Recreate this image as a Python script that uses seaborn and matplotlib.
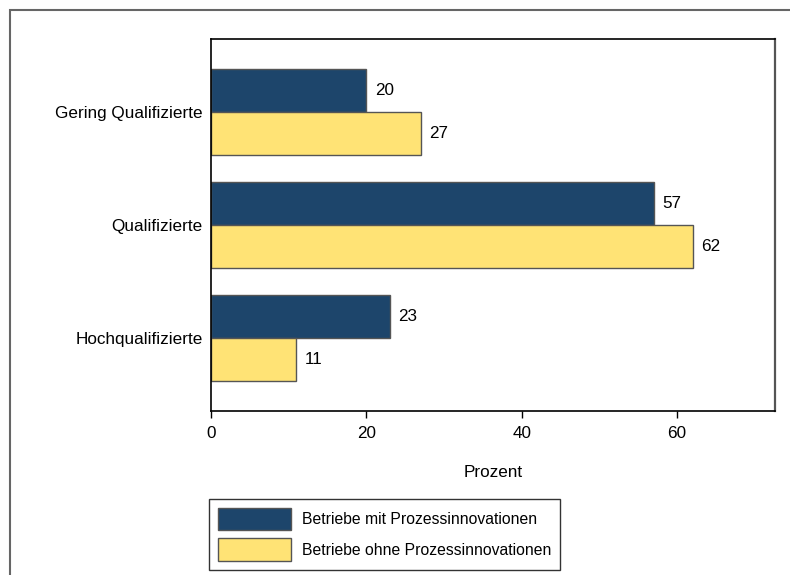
import matplotlib
matplotlib.use("Agg")
import matplotlib.pyplot as plt
from matplotlib.patches import Rectangle
import pandas as pd
import seaborn as sns

# Data
categories = ["Gering Qualifizierte", "Qualifizierte", "Hochqualifizierte"]
series_names = ["Betriebe mit Prozessinnovationen", "Betriebe ohne Prozessinnovationen"]
mit_values = [20, 57, 23]
ohne_values = [27, 62, 11]
x_ticks = [0, 20, 40, 60]
x_label = "Prozent"

colors = ["#1d456b", "#ffe375"]

df = pd.DataFrame({
    "Kategorie": categories * 2,
    "Gruppe": [series_names[0]] * len(categories) + [series_names[1]] * len(categories),
    "Wert": mit_values + ohne_values,
})

sns.set_theme(style="white")
plt.rcParams["font.family"] = ["Liberation Sans", "DejaVu Sans"]
plt.rcParams["text.color"] = "black"
plt.rcParams["axes.labelcolor"] = "black"
plt.rcParams["xtick.color"] = "black"
plt.rcParams["ytick.color"] = "black"

FS = 12.3
LFS = 11.3

W, H = 790, 575
fig = plt.figure(figsize=(W / 100, H / 100), dpi=100)
ax = fig.add_axes([211 / W, 1 - 411 / H, (775 - 211) / W, (411 - 39) / H])

sns.barplot(
    data=df, y="Kategorie", x="Wert", hue="Gruppe", order=categories,
    hue_order=series_names, palette=colors, orient="h", width=0.76,
    edgecolor="#555555", linewidth=1.0, saturation=1, ax=ax, legend=True,
)

for cont in ax.containers:
    ax.bar_label(cont, fmt="%d", padding=6, fontsize=FS, color="black")

ax.set_xlim(0, 72.6)
ax.set_ylim(2.646, -0.646)
ax.set_xticks(x_ticks)
ax.set_xlabel(x_label, fontsize=FS, labelpad=17)
ax.set_ylabel("")
ax.tick_params(axis="x", direction="out", length=5, width=1, color="black",
               labelsize=FS, pad=6, bottom=True)
ax.tick_params(axis="y", length=0, labelsize=FS, pad=6)
for side in ["left", "bottom", "top"]:
    ax.spines[side].set_color("black")
    ax.spines[side].set_linewidth(1.2)
ax.spines["right"].set_color("#555555")
ax.spines["right"].set_linewidth(1.6)

handles, labels = ax.get_legend_handles_labels()
ax.get_legend().remove()
leg = fig.legend(
    handles, labels, loc="upper left",
    bbox_to_anchor=(209 / W, 1 - 499 / H), bbox_transform=fig.transFigure,
    borderaxespad=0, frameon=True, fancybox=False, fontsize=LFS,
    handlelength=4.65, handleheight=1.85, labelspacing=0.5,
    handletextpad=0.7, borderpad=0.55,
)
leg.get_frame().set_edgecolor("black")
leg.get_frame().set_linewidth(1.0)

# Outer frame around the whole graphic
fig.patches.append(Rectangle((10 / W, -0.05), 1.2, 1 - 10 / H + 0.05,
                             transform=fig.transFigure, fill=False,
                             edgecolor="#666666", linewidth=1.5))

fig.savefig("out.png", dpi=100)
